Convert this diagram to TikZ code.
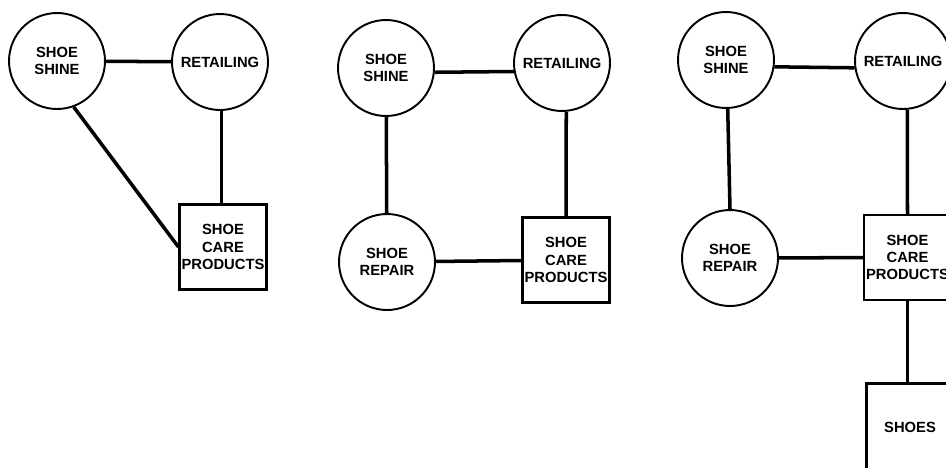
\documentclass[tikz,border=0pt]{standalone}
\usepackage{fontspec}
\setmainfont{Liberation Sans}
\usepackage{tikz}
\usetikzlibrary{positioning}
\tikzset{
    activity/.style={circle, draw, line width=1.1pt, minimum size=1.92cm, inner sep=0pt, text centered, align=center},
    product/.style={rectangle, draw, line width=1.2pt, minimum width=1.74cm, minimum height=1.7cm, inner sep=1pt, text centered, align=center},
    link/.style={-, line width=2pt}
}

\begin{document}
\begin{tikzpicture}[
    x=0.02cm, y=-0.02cm,
    every node/.style={font=\bfseries\fontsize{8.4}{9.8}\selectfont},
    bigbox/.style={product, minimum height=1.74cm}
]
    \useasboundingbox (0,0) rectangle (946,467);
    \clip (0,0) rectangle (946,467);

    % First group
    \node[activity] (shine1) at (57,61) {SHOE\\ SHINE};
    \node[activity] (retail1) at (220,62) {RETAILING};
    \node[product] (care1) at (223,247) {SHOE\\ CARE\\ PRODUCTS};

    % Second group
    \node[activity] (shine2) at (386,68) {SHOE\\ SHINE};
    \node[activity] (retail2) at (562,63) {RETAILING};
    \node[activity] (repair2) at (387,262) {SHOE\\ REPAIR};
    \node[product] (care2) at (566,260) {SHOE\\ CARE\\ PRODUCTS};

    % Third group
    \node[activity] (shine3) at (726,60) {SHOE\\ SHINE};
    \node[activity] (retail3) at (903,61) {RETAILING};
    \node[activity] (repair3) at (730,258) {SHOE\\ REPAIR};
    \node[product] (care3) at (907.5,257.5) {SHOE\\ CARE\\ PRODUCTS};
    \node[bigbox] (shoes3) at (910,427) {SHOES};

    % Links of the first group
    \draw[link] (shine1) -- (retail1);
    \draw[link] (care1.north -| retail1.-88) -- (retail1.-88);
    \draw[link] (shine1.-70) -- (care1.west);

    % Links of the second group
    \draw[link] (shine2.-5) -- (retail2.190);
    \draw[link] (shine2) -- (repair2);
    \draw[link] (retail2.-85) -- (care2.north);
    \draw[link] (repair2) -- (care2);

    % Links of the third group
    \draw[link] (shine3.-8) -- (retail3.188);
    \draw[link] (shine3.-88) -- (repair3.north);
    \draw[link] (retail3.-85) -- (care3.north);
    \draw[link] (repair3) -- (care3);
    \draw[link] (care3.south) -- (care3.south |- shoes3.north);
\end{tikzpicture}
\end{document}
